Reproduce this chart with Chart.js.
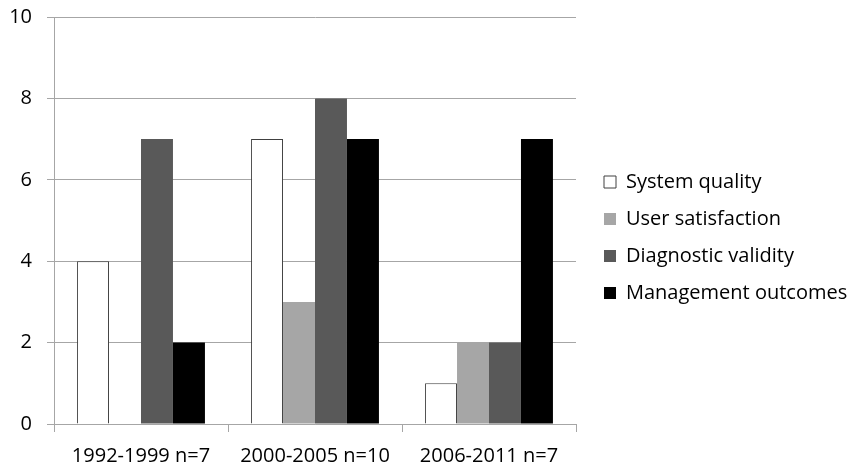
<!DOCTYPE html>
<html><head><meta charset="utf-8">
<script src="https://cdn.jsdelivr.net/npm/chart.js@4/dist/chart.umd.min.js"></script>
<style>html,body{margin:0;padding:0;background:#fff}#wrap{width:860px;height:467px}</style>
</head><body><div id="wrap"><canvas id="c" width="860" height="467"></canvas></div>
<script>
const categories = ["1992-1999 n=7", "2000-2005 n=10", "2006-2011 n=7"];
const systemQuality = [4, 7, 1];
const userSatisfaction = [0, 3, 2];
const diagnosticValidity = [7, 8, 2];
const managementOutcomes = [2, 7, 7];
const yTicks = [0, 2, 4, 6, 8, 10];

const font = {family: "'Open Sans', 'Liberation Sans', sans-serif", size: 20};

const legendFix = {
  id: 'legendFix',
  beforeLayout(chart) {
    const lg = chart.legend;
    if (lg && !lg._patched) {
      const orig = lg.fit;
      lg.fit = function () { orig.call(this); this.width = 284; };
      lg._patched = true;
    }
  },
  afterLayout(chart) {
    const lg = chart.legend;
    if (lg) { lg.left += 11; lg.right += 11; lg.top -= 3; lg.bottom -= 3; }
  }
};

new Chart(document.getElementById('c'), {
  type: 'bar',
  data: {
    labels: categories,
    datasets: [
      {label: 'System quality', data: systemQuality, backgroundColor: '#ffffff', borderColor: '#404040', borderWidth: 1},
      {label: 'User satisfaction', data: userSatisfaction, backgroundColor: '#a6a6a6', borderWidth: 0},
      {label: 'Diagnostic validity', data: diagnosticValidity, backgroundColor: '#595959', borderWidth: 0},
      {label: 'Management outcomes', data: managementOutcomes, backgroundColor: '#000000', borderWidth: 0}
    ]
  },
  plugins: [legendFix],
  options: {
    responsive: false,
    animation: false,
    layout: {padding: {left: 9, top: 17, right: 0, bottom: 3}},
    datasets: {bar: {categoryPercentage: 0.735, barPercentage: 1}},
    plugins: {
      tooltip: {enabled: false},
      legend: {
        position: 'right',
        labels: {boxWidth: 12, boxHeight: 12, padding: 17, color: '#000', font: font}
      }
    },
    scales: {
      x: {
        grid: {offset: true, drawOnChartArea: false, color: '#a6a6a6', tickLength: 8},
        border: {color: '#a6a6a6'},
        ticks: {color: '#000', font: font, padding: 12, maxRotation: 0},
        afterFit: (s) => { s.height = 40; s.paddingLeft = 0; s.paddingRight = 0; }
      },
      y: {
        min: 0, max: 10,
        afterBuildTicks: (s) => { s.ticks = yTicks.map(v => ({value: v})); },
        grid: {color: '#a6a6a6', tickLength: 7},
        border: {color: '#a6a6a6'},
        ticks: {color: '#000', font: font, padding: 15},
        afterFit: (s) => { s.width = 45; s.paddingTop = 0; s.paddingBottom = 0; }
      }
    }
  }
});
</script></body></html>
